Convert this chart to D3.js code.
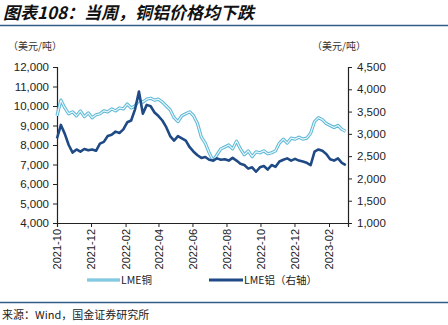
<!DOCTYPE html>
<html><head><meta charset="utf-8">
<script src="https://cdn.jsdelivr.net/npm/d3@7/dist/d3.min.js"></script>
<style>
body{margin:0;background:#fff;}
svg{display:block;}
text{font-family:"Liberation Sans",Arial,sans-serif;}
.cjk{font-family:"Noto Sans CJK SC","Noto Sans",sans-serif;}
</style></head>
<body>
<svg id="c" width="448" height="325"></svg>
<script>
// weekly observations starting 2021-10-01
const startDate = "2021-10-01";
const copper = [9500,10300,9900,9600,9700,9500,9750,9450,9650,9400,
  9550,9600,9750,9700,9850,9750,9900,9850,10100,9900,
  10000,10300,10200,10350,10400,10300,10350,10200,10000,9800,
  9400,9200,9500,9600,9700,9500,9100,8400,8100,7600,
  7200,7500,7800,7900,8000,7800,8200,7800,7500,7700,
  7400,7650,7600,7700,7550,7600,7700,8100,8300,8100,
  8350,8300,8400,8300,8350,8600,9200,9400,9300,9100,
  9000,8900,9000,8800,8700];
const aluminum = [2900,3200,3000,2750,2580,2650,2600,2660,2630,2650,
  2620,2780,2820,2950,2980,3050,3020,3100,3260,3300,
  3550,3950,3450,3650,3620,3480,3400,3300,3150,2950,
  2850,2950,2900,2850,2700,2600,2520,2460,2480,2420,
  2400,2450,2420,2430,2400,2460,2400,2330,2300,2220,
  2250,2150,2250,2280,2200,2300,2260,2380,2420,2450,
  2400,2440,2400,2380,2350,2300,2600,2650,2620,2550,
  2430,2400,2450,2350,2300];
const xTickLabels = ["2021-10","2021-12","2022-02","2022-04","2022-06","2022-08","2022-10","2022-12","2023-02"];
const leftTicks = [4000,5000,6000,7000,8000,9000,10000,11000,12000];
const rightTicks = [1000,1500,2000,2500,3000,3500,4000,4500];
const seriesNames = ["LME铜","LME铝（右轴）"];
const title = "图表108：当周，铜铝价格均下跌";
const unitLabel = "（美元/吨）";
const sourceText = "来源：Wind，国金证券研究所";

const parse = d3.timeParse("%Y-%m-%d");
const parseM = d3.timeParse("%Y-%m");
const t0 = parse(startDate);
const dates = copper.map((_, i) => d3.timeDay.offset(t0, i * 7));

const svg = d3.select("#c");
const L = 57, R = 348, T = 67, B = 223;
const x = d3.scaleTime().domain([t0, parse("2023-03-07")]).range([L, R]);
const yL = d3.scaleLinear().domain([4000, 12000]).range([B, T]);
const yR = d3.scaleLinear().domain([1000, 4500]).range([B, T]);

const lineColor = "#2e5d87";
// title
svg.append("text").attr("class","cjk").attr("x",3).attr("y",19)
  .attr("font-size",17).attr("font-weight","bold").attr("font-style","italic")
  .attr("fill","#111").text(title);
svg.append("line").attr("x1",0).attr("x2",448).attr("y1",25.5).attr("y2",25.5)
  .attr("stroke",lineColor).attr("stroke-width",1.5);
// units
svg.append("text").attr("class","cjk").attr("x",8).attr("y",50).attr("font-size",10).attr("fill","#333").text(unitLabel);
svg.append("text").attr("class","cjk").attr("x",312).attr("y",50).attr("font-size",10).attr("fill","#333").text(unitLabel);

// axes
const axL = svg.append("g").attr("transform",`translate(${L},0)`)
  .call(d3.axisLeft(yL).tickValues(leftTicks).tickFormat(d3.format(",")).tickSize(4).tickPadding(4));
const axR = svg.append("g").attr("transform",`translate(${R},0)`)
  .call(d3.axisRight(yR).tickValues(rightTicks).tickFormat(d3.format(",")).tickSize(4).tickPadding(5));
const axB = svg.append("g").attr("transform",`translate(0,${B})`)
  .call(d3.axisBottom(x).tickValues(xTickLabels.map(parseM)).tickFormat(d3.timeFormat("%Y-%m")).tickSize(4).tickPadding(4));
[axL,axR,axB].forEach(a=>{
  a.select(".domain").attr("stroke","#222").attr("stroke-width",1.2);
  a.selectAll(".tick line").attr("stroke","#222");
  a.selectAll(".tick text").attr("font-size",11.5).attr("fill","#222").attr("font-family","Liberation Sans, Arial, sans-serif");
});
axB.selectAll(".tick text").attr("transform","rotate(-90)").attr("text-anchor","end")
  .attr("x",-6).attr("y",0).attr("dy","0.35em").attr("font-size",11);

// lines
const lc = d3.line().x((d,i)=>x(dates[i])).y(d=>yL(d));
const la = d3.line().x((d,i)=>x(dates[i])).y(d=>yR(d));
svg.append("path").datum(copper).attr("d",lc).attr("fill","none").attr("stroke","#5db8d6").attr("stroke-width",3.2).attr("stroke-linejoin","round");
svg.append("path").datum(copper).attr("d",lc).attr("fill","none").attr("stroke","#e8f6fb").attr("stroke-width",1.2).attr("stroke-linejoin","round");
svg.append("path").datum(aluminum).attr("d",la).attr("fill","none").attr("stroke","#1f4a85").attr("stroke-width",2.6).attr("stroke-linejoin","round");

// legend
const lg = svg.append("g");
lg.append("line").attr("x1",87).attr("x2",120).attr("y1",280).attr("y2",280).attr("stroke","#5db8d6").attr("stroke-width",3);
lg.append("line").attr("x1",87).attr("x2",120).attr("y1",280).attr("y2",280).attr("stroke","#aadcee").attr("stroke-width",1);
lg.append("text").attr("class","cjk").attr("x",121).attr("y",284).attr("font-size",10.5).attr("fill","#222").text(seriesNames[0]);
lg.append("line").attr("x1",209).attr("x2",243).attr("y1",280).attr("y2",280).attr("stroke","#1f4a85").attr("stroke-width",3);
lg.append("text").attr("class","cjk").attr("x",244).attr("y",284).attr("font-size",10.5).attr("fill","#222").text(seriesNames[1]);

// source
svg.append("line").attr("x1",0).attr("x2",448).attr("y1",302.5).attr("y2",302.5).attr("stroke",lineColor).attr("stroke-width",1.5);
svg.append("text").attr("class","cjk").attr("x",2).attr("y",319).attr("font-size",11).attr("fill","#222").text(sourceText);
</script>
</body></html>
